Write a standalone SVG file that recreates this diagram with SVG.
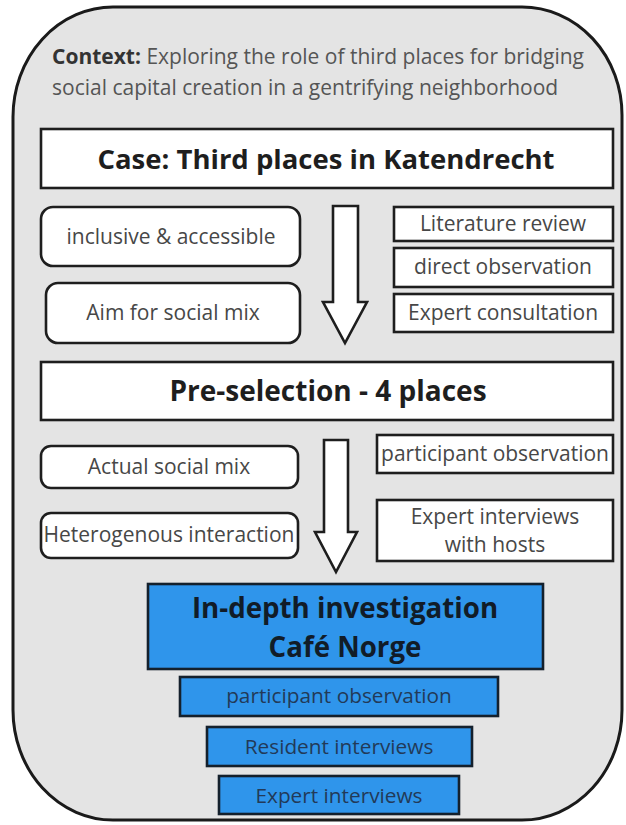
<svg xmlns="http://www.w3.org/2000/svg" width="626" height="825" viewBox="0 0 626 825">
<style>
.box{fill:#ffffff;stroke:#1e1e1e;stroke-width:2.6}
.blue{fill:#2f95eb;stroke:#14202c;stroke-width:2.6}
.t{font-family:"Open Sans","Noto Sans",sans-serif;font-size:21px;fill:#474747;text-anchor:middle}
.b{font-family:"Open Sans","Noto Sans",sans-serif;font-weight:bold;fill:#1e1e1e;text-anchor:middle}
.bt{font-family:"Open Sans","Noto Sans",sans-serif;font-size:20.8px;fill:#223a58;text-anchor:middle}
.bb{font-family:"Open Sans","Noto Sans",sans-serif;font-weight:bold;font-size:27.7px;fill:#111c28;text-anchor:middle}
.arrow{fill:#ffffff;stroke:#1e1e1e;stroke-width:2.6;stroke-linejoin:miter}
</style>
<g id="context">
<path d="M113,7 L522,7 A100,108 0 0 1 622,115 L622,710 A100,110 0 0 1 522,820 L113,820 A100,110 0 0 1 13,710 L13,117 A100,110 0 0 1 113,7 Z" fill="#e4e4e4" stroke="#1a1a1a" stroke-width="3"/>
<text x="52" y="64" font-family="Open Sans, Noto Sans, sans-serif" font-size="21" fill="#555"><tspan font-weight="bold" fill="#333">Context:</tspan> Exploring the role of third places for bridging</text>
<text x="52" y="95" font-family="Open Sans, Noto Sans, sans-serif" font-size="21" fill="#555">social capital creation in a gentrifying neighborhood</text>
</g>
<g id="case">
<rect class="box" x="41" y="129" width="572" height="59"/>
<text class="b" x="326" y="169" font-size="27.5">Case: Third places in Katendrecht</text>
</g>
<g id="inclusive">
<rect class="box" x="41" y="207" width="259" height="59" rx="12"/>
<text class="t" x="171" y="244">inclusive &amp; accessible</text>
</g>
<g id="aim">
<rect class="box" x="46" y="283" width="254" height="60" rx="12"/>
<text class="t" x="173" y="320">Aim for social mix</text>
</g>
<g id="literature">
<rect class="box" x="394" y="207" width="219" height="34"/>
<text class="t" x="503" y="231">Literature review</text>
</g>
<g id="direct">
<rect class="box" x="394" y="248" width="219" height="39"/>
<text class="t" x="503" y="274">direct observation</text>
</g>
<g id="expertconsult">
<rect class="box" x="394" y="294" width="219" height="38"/>
<text class="t" x="503" y="320">Expert consultation</text>
</g>
<g id="preselection">
<rect class="box" x="41" y="362" width="572" height="58"/>
<text class="b" x="328" y="401" font-size="28">Pre-selection - 4 places</text>
</g>
<g id="actual">
<rect class="box" x="41" y="446" width="257" height="42" rx="10"/>
<text class="t" x="169" y="474">Actual social mix</text>
</g>
<g id="heterogenous">
<rect class="box" x="41" y="513" width="257" height="45" rx="10"/>
<text class="t" x="169" y="542">Heterogenous interaction</text>
</g>
<g id="participant1">
<rect class="box" x="377" y="435" width="236" height="38"/>
<text class="t" x="495" y="461">participant observation</text>
</g>
<g id="experthosts">
<rect class="box" x="377" y="500" width="236" height="61"/>
<text class="t" x="495" y="524">Expert interviews</text>
<text class="t" x="495" y="552">with hosts</text>
</g>
<g id="indepth">
<rect class="blue" x="148" y="584" width="395" height="85"/>
<text class="bb" x="345" y="618">In-depth investigation</text>
<text class="bb" x="345" y="657">Café Norge</text>
</g>
<g id="participant2">
<rect class="blue" x="180" y="677" width="318" height="39"/>
<text class="bt" x="339" y="703">participant observation</text>
</g>
<g id="resident">
<rect class="blue" x="207" y="727" width="265" height="39"/>
<text class="bt" x="339" y="754">Resident interviews</text>
</g>
<g id="expert">
<rect class="blue" x="219" y="776" width="240" height="38"/>
<text class="bt" x="339" y="803">Expert interviews</text>
</g>
<g id="connectors">
<path class="arrow" d="M333,206 L358,206 L358,302 L367,302 L345,343 L323,302 L333,302 Z"/>
<path class="arrow" d="M324,440 L348,440 L348,532 L357,532 L336,572 L315,532 L324,532 Z"/>
</g>
</svg>
